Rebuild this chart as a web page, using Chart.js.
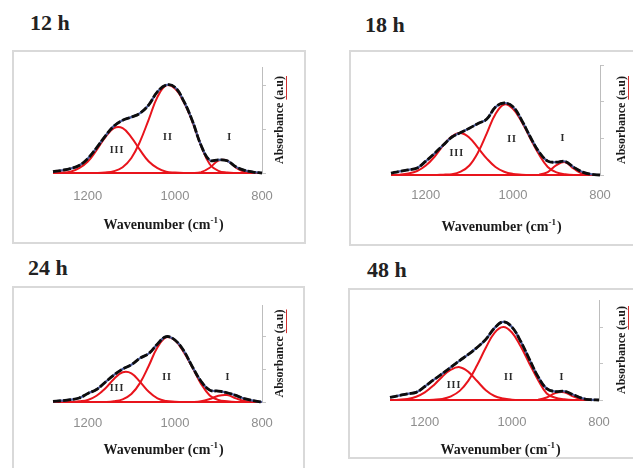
<!DOCTYPE html>
<html>
<head>
<meta charset="utf-8">
<script src="https://cdn.jsdelivr.net/npm/chart.js@4.4.1/dist/chart.umd.min.js"></script>
<style>
  html, body { margin: 0; padding: 0; background: #fff; }
  body { width: 633px; height: 468px; overflow: hidden; position: relative; }
  .box { position: absolute; border: 2px solid #d9d9d9; box-sizing: border-box; }
  .ttl { position: absolute; font: bold 22px "Liberation Serif", serif; color: #222; line-height: 24px; white-space: nowrap; }
  canvas { position: absolute; }
</style>
</head>
<body>
<div class="box" style="left:12px;top:50px;width:294px;height:194px"></div>
<div class="box" style="left:349px;top:50px;width:300px;height:196px"></div>
<div class="box" style="left:12px;top:286px;width:293px;height:200px"></div>
<div class="box" style="left:348px;top:288px;width:300px;height:171px"></div>

<div class="ttl" style="left:30px;top:11px">12 h</div>
<div class="ttl" style="left:365px;top:13px">18 h</div>
<div class="ttl" style="left:28px;top:256px">24 h</div>
<div class="ttl" style="left:367px;top:258px">48 h</div>

<canvas id="c0"></canvas>
<canvas id="c1"></canvas>
<canvas id="c2"></canvas>
<canvas id="c3"></canvas>

<script>
// wavenumber grid (cm-1), read left to right on the reversed axis
const wavenumbers = [1280,1260,1240,1220,1200,1180,1160,1140,1120,1100,1080,1060,1040,1020,1000,980,960,940,920,900,880,860,840,820,800];
const xTickLabels = [1200, 1000, 800];
const yTickValues = [0, 1, 2, 3];
const bandNames = ['III', 'II', 'I'];

// 12 h
const sum12     = [0.03,0.06,0.10,0.17,0.33,0.57,0.84,1.07,1.20,1.27,1.36,1.55,1.85,2.00,1.95,1.64,1.19,0.63,0.29,0.30,0.28,0.14,0.06,0.02,0];
const bandII12  = [0,0,0,0,0,0,0.01,0.04,0.13,0.34,0.72,1.22,1.73,1.99,1.92,1.62,1.17,0.62,0.20,0.05,0.01,0,0,0,0];
const bandIII12 = [0,0.01,0.03,0.11,0.26,0.52,0.81,1.02,1.02,0.81,0.52,0.26,0.11,0.03,0.01,0,0,0,0,0,0,0,0,0,0];
const bandI12   = [0,0,0,0,0,0,0,0,0,0,0,0,0,0,0,0,0,0.02,0.12,0.28,0.28,0.12,0.02,0,0];
const labelWn12 = [1133, 1016, 874];
const labelY12  = [0.52, 0.80, 0.82];

// 18 h
const sum18     = [0.05,0.10,0.14,0.19,0.38,0.59,0.82,1.04,1.16,1.28,1.41,1.53,1.86,1.97,1.87,1.50,1.04,0.63,0.38,0.35,0.37,0.21,0.08,0.02,0];
const bandII18  = [0,0,0,0,0,0,0.01,0.02,0.09,0.26,0.62,1.14,1.67,1.93,1.81,1.46,1.00,0.56,0.22,0.07,0.02,0,0,0,0];
const bandIII18 = [0,0.01,0.04,0.11,0.26,0.50,0.81,1.06,1.15,1.02,0.74,0.45,0.22,0.09,0.03,0.01,0,0,0,0,0,0,0,0,0];
const bandI18   = [0,0,0,0,0,0,0,0,0,0,0,0,0,0,0,0,0,0.01,0.08,0.27,0.35,0.17,0.03,0,0];
const labelWn18 = [1129, 1002, 885];
const labelY18  = [0.60, 0.96, 1.00];

// 24 h
const sum24     = [0.02,0.04,0.07,0.12,0.26,0.38,0.60,0.82,1.00,1.13,1.33,1.47,1.76,1.98,1.88,1.56,1.07,0.63,0.36,0.33,0.28,0.20,0.10,0.04,0];
const bandII24  = [0,0,0,0,0,0,0,0.02,0.08,0.24,0.58,1.10,1.66,1.96,1.87,1.52,1.05,0.55,0.20,0.06,0.02,0,0,0,0];
const bandIII24 = [0,0,0,0.02,0.06,0.19,0.41,0.70,0.90,0.87,0.61,0.31,0.11,0.03,0.01,0,0,0,0,0,0,0,0,0,0];
const bandI24   = [0,0,0,0,0,0,0,0,0,0,0,0,0,0,0,0,0,0.02,0.09,0.19,0.21,0.11,0.03,0,0];
const labelWn24 = [1133, 1018, 878];
const labelY24  = [0.42, 0.76, 0.76];

// 48 h
const sum48     = [0.07,0.12,0.17,0.21,0.37,0.55,0.72,0.90,1.08,1.25,1.44,1.66,1.97,2.14,2.00,1.61,1.12,0.64,0.31,0.23,0.24,0.15,0.05,0.01,0];
const bandII48  = [0,0,0,0,0,0.01,0.03,0.10,0.25,0.53,0.95,1.43,1.84,2.00,1.85,1.47,1.00,0.55,0.18,0.06,0.02,0,0,0,0];
const bandIII48 = [0,0.01,0.03,0.09,0.21,0.40,0.64,0.83,0.90,0.77,0.52,0.27,0.11,0.04,0.01,0,0,0,0,0,0,0,0,0,0];
const bandI48   = [0,0,0,0,0,0,0,0,0,0,0,0,0,0,0,0,0,0.01,0.07,0.19,0.21,0.10,0.02,0,0];
const labelWn48 = [1133, 1007, 885];
const labelY48  = [0.41, 0.63, 0.63];

// where each plot area sits on the page
const frames = [
  {left: 53,  right: 262, top: 67,  bottom: 173, yMax: 2.41, tickGap: 23, xTitleGap: 52, yTitleGap: 18},
  {left: 391, right: 600, top: 65,  bottom: 175, yMax: 3.01, tickGap: 20, xTitleGap: 52, yTitleGap: 22},
  {left: 53,  right: 262, top: 305, bottom: 402, yMax: 2.94, tickGap: 21, xTitleGap: 48, yTitleGap: 18},
  {left: 390, right: 599, top: 300, bottom: 400, yMax: 2.74, tickGap: 22, xTitleGap: 50, yTitleGap: 23}
];

const RED = '#e8141c';
const PAD = 6, AXIS_W = 40, AXIS_H = 66;

const pts = vals => vals.map((v, j) => ({x: wavenumbers[j], y: v}));

// texts the library can't place the way the figure does
const panelText = {
  id: 'panelText',
  afterDatasetsDraw(chart, args, opts) {
    const {ctx, chartArea: a, scales: {x, y}} = chart;
    ctx.save();
    // band labels
    ctx.fillStyle = '#2a2a2a';
    ctx.font = 'bold 10px "Liberation Serif"';
    ctx.textAlign = 'center';
    ctx.textBaseline = 'middle';
    ctx.letterSpacing = '1px';
    opts.wn.forEach((w, k) => ctx.fillText(bandNames[k], x.getPixelForValue(w), y.getPixelForValue(opts.val[k])));
    ctx.letterSpacing = '0px';

    // x title with superscript
    ctx.fillStyle = '#1a1a1a';
    ctx.textAlign = 'left';
    const big = 'bold 14px "Liberation Serif"', small = 'bold 9px "Liberation Serif"';
    ctx.font = big;
    const w1 = ctx.measureText('Wavenumber (cm').width, w3 = ctx.measureText(')').width;
    ctx.font = small;
    const w2 = ctx.measureText('-1').width + 1;
    let tx = (a.left + a.right) / 2 + 6 - (w1 + w2 + w3) / 2;
    const ty = a.bottom + opts.xTitleGap;
    ctx.font = big;  ctx.fillText('Wavenumber (cm', tx, ty); tx += w1;
    ctx.font = small; ctx.fillText('-1', tx, ty - 4); tx += w2;
    ctx.font = big;  ctx.fillText(')', tx, ty);

    // y title, reading bottom to top
    ctx.translate(a.right + opts.yTitleGap, (a.top + a.bottom) / 2);
    ctx.rotate(-Math.PI / 2);
    ctx.font = 'bold 12px "Liberation Serif"';
    const t1 = 'Absorbance ', t2 = '(a.u)';
    const u1 = ctx.measureText(t1).width, u2 = ctx.measureText(t2).width;
    const ux = -(u1 + u2) / 2;
    ctx.fillText(t1, ux, 0);
    ctx.fillText(t2, ux + u1, 0);
    ctx.strokeStyle = '#d23030';
    ctx.lineWidth = 1;
    ctx.beginPath(); ctx.moveTo(ux + u1, 6.5); ctx.lineTo(ux + u1 + u2, 6.5); ctx.stroke();
    ctx.restore();
  }
};

function makePanel(id, f, sum, b2, b3, b1, lblWn, lblY) {
  const cv = document.getElementById(id);
  cv.width = f.right - f.left + PAD + AXIS_W;
  cv.height = f.bottom - f.top + PAD + AXIS_H;
  cv.style.left = (f.left - PAD) + 'px';
  cv.style.top = (f.top - PAD) + 'px';

  const line = (vals, color, width, dash) => ({
    data: pts(vals), borderColor: color, borderWidth: width, borderDash: dash || [],
    pointRadius: 0, tension: 0.4, fill: false, clip: 4
  });

  new Chart(cv.getContext('2d'), {
    type: 'line',
    data: {
      datasets: [
        line(sum, '#0d0d0d', 2.8, [8, 2]),
        line(sum, '#4a5a9a', 2.2),
        line(b2, RED, 2),
        line(b3, RED, 2),
        line(b1, RED, 2)
      ]
    },
    options: {
      responsive: false,
      animation: false,
      layout: {padding: {left: PAD, top: PAD, right: 0, bottom: 0}, autoPadding: false},
      plugins: {
        legend: {display: false},
        tooltip: {enabled: false},
        panelText: {wn: lblWn, val: lblY, xTitleGap: f.xTitleGap, yTitleGap: f.yTitleGap}
      },
      scales: {
        x: {
          type: 'linear', reverse: true, min: 800, max: 1280,
          afterBuildTicks: s => { s.ticks = xTickLabels.map(v => ({value: v})); },
          afterFit: s => { s.height = AXIS_H; },
          grid: {display: false, drawTicks: false},
          border: {display: true, color: '#c8c8c8'},
          ticks: {
            color: '#8e8e8e', font: {family: 'Liberation Sans', size: 13},
            padding: f.tickGap - 7.8, maxRotation: 0,
            callback: v => String(v)
          }
        },
        y: {
          position: 'right', min: 0, max: f.yMax,
          afterBuildTicks: s => { s.ticks = yTickValues.filter(v => v <= f.yMax).map(v => ({value: v})); },
          afterFit: s => { s.width = AXIS_W; },
          grid: {drawOnChartArea: false, drawTicks: true, tickLength: 4, color: '#c4c4c4'},
          border: {display: true, color: '#bdbdbd'},
          ticks: {display: false}
        }
      }
    },
    plugins: [panelText]
  });
}

makePanel('c0', frames[0], sum12, bandII12, bandIII12, bandI12, labelWn12, labelY12);
makePanel('c1', frames[1], sum18, bandII18, bandIII18, bandI18, labelWn18, labelY18);
makePanel('c2', frames[2], sum24, bandII24, bandIII24, bandI24, labelWn24, labelY24);
makePanel('c3', frames[3], sum48, bandII48, bandIII48, bandI48, labelWn48, labelY48);
</script>
</body>
</html>
